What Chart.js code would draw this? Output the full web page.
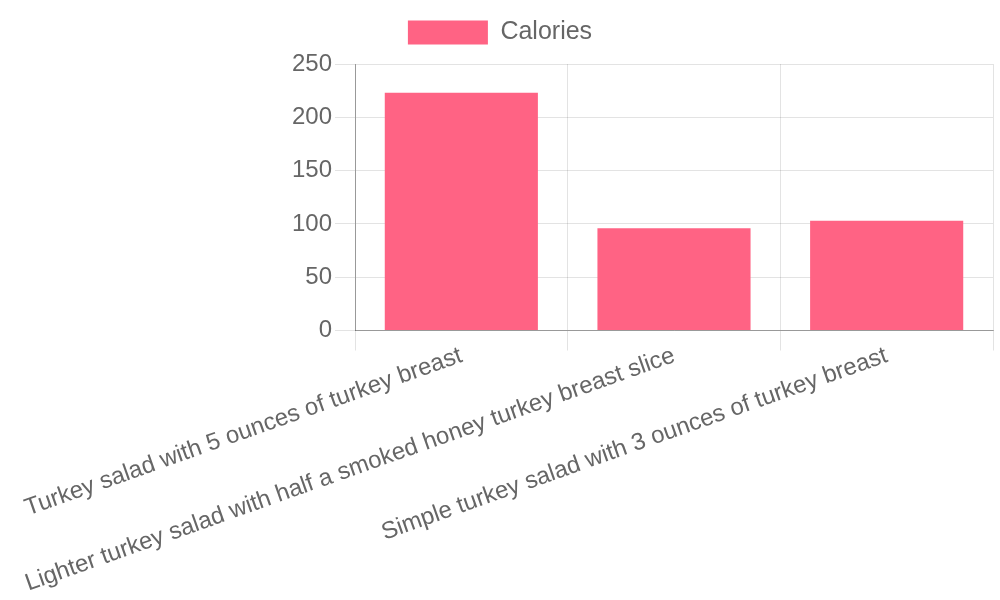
<!DOCTYPE html>
<html>
<head>
<meta charset="utf-8">
<script src="https://cdn.jsdelivr.net/npm/chart.js@4"></script>
<style>
  html, body { margin: 0; padding: 0; background: #fff; }
  #wrap { width: 1000px; height: 600px; }
</style>
</head>
<body>
<div id="wrap"><canvas id="myChart"></canvas></div>
<script>
// дані графіка
var labels = [
    'Turkey salad with 5 ounces of turkey breast',
    'Lighter turkey salad with half a smoked honey turkey breast slice',
    'Simple turkey salad with 3 ounces of turkey breast'
];
var calories = [223, 96, 103];
var yTicks = [0, 50, 100, 150, 200, 250];

Chart.defaults.font.family = '"Liberation Sans", Arial, sans-serif';
Chart.defaults.color = '#666';

// трохи більше місця під легендою
var legendGap = {
    id: 'legendGap',
    beforeLayout: function (chart) {
        var legend = chart.legend;
        if (legend && !legend._gapDone) {
            var fit = legend.fit;
            legend.fit = function () {
                fit.call(this);
                this.height += 9;
            };
            legend._gapDone = true;
        }
    }
};

var ctx = document.getElementById('myChart').getContext('2d');
var myChart = new Chart(ctx, {
    type: 'bar',
    data: {
        labels: labels,
        datasets: [{
            label: 'Calories',
            data: calories,
            backgroundColor: 'rgb(255, 99, 132)',
            borderWidth: 0
        }]
    },
    plugins: [legendGap],
    options: {
        responsive: true,
        maintainAspectRatio: false,
        animation: false,
        plugins: {
            legend: {
                labels: { boxWidth: 80, boxHeight: 24, font: { size: 25 }, padding: 20 }
            },
            tooltip: { enabled: false }
        },
        scales: {
            x: {
                grid: { color: 'rgba(0,0,0,0.11)', tickLength: 20 },
                border: { color: 'rgba(0,0,0,0.33)' },
                ticks: { font: { size: 24 }, minRotation: 19.5, maxRotation: 19.5, padding: -9 },
                afterFit: function (scale) {
                    scale.paddingLeft = 355;
                    scale.paddingRight = 7;
                    scale.height += 11;
                }
            },
            y: {
                min: yTicks[0],
                max: yTicks[yTicks.length - 1],
                grid: { color: 'rgba(0,0,0,0.11)', tickLength: 20 },
                border: { color: 'rgba(0,0,0,0.33)' },
                ticks: { stepSize: 50, font: { size: 24 } }
            }
        }
    }
});
</script>
</body>
</html>
